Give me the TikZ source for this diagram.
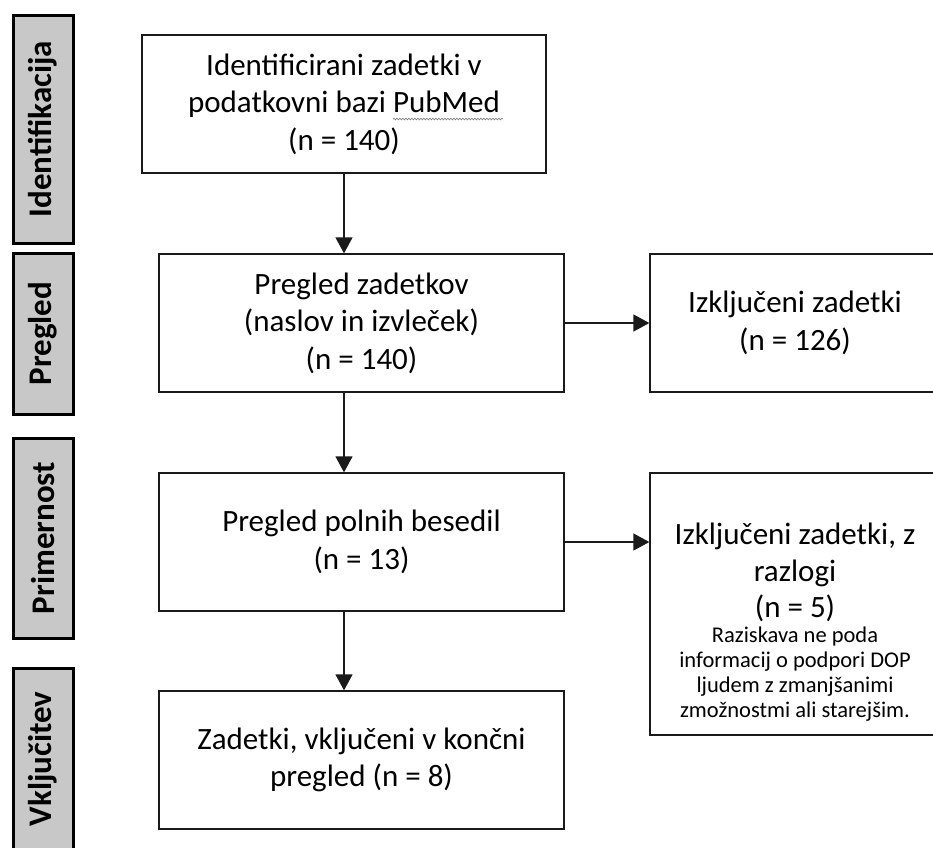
\documentclass[tikz,border=0pt]{standalone}
\usepackage{fontspec}
\setmainfont{Carlito}
\usetikzlibrary{arrows.meta,decorations.pathmorphing}
\definecolor{lblgray}{HTML}{C8C8C8}
\definecolor{edgec}{HTML}{1A1A1A}
\begin{document}
\begin{tikzpicture}[x=1pt,y=-1pt,
  stage/.style={draw=black, line width=3pt, fill=lblgray, rotate=90, minimum height=60pt, inner sep=0pt, font=\bfseries\fontsize{33}{40}\selectfont},
  flowbox/.style={draw=edgec, line width=1.3pt, align=center, inner sep=0pt, font=\fontsize{31}{37.5}\selectfont},
  bigtxt/.style={align=center, inner sep=0pt, font=\fontsize{31}{36.5}\selectfont},
  smalltxt/.style={align=center, inner sep=0pt, font=\fontsize{22.5}{25}\selectfont},
  arr/.style={draw=edgec, line width=1.3pt, -{Triangle[length=16pt,width=17pt]}}]
\useasboundingbox (0,0) rectangle (933,847);
% stage labels
\node[stage, minimum width=228pt] (s1) at (43,129) {Identifikacija};
\node[stage, minimum width=161pt] (s2) at (43,333.5) {Pregled};
\node[stage, minimum width=200pt] (s3) at (43,538) {Primernost};
\node[stage, minimum width=182pt] (s4) at (43,759) {Vključitev};
% main boxes
\node[flowbox, minimum width=404pt, minimum height=138pt] (b1) at (344,104) {Identificirani zadetki v\\ podatkovni bazi PubMed\\ (n = 140)};
\node[flowbox, minimum width=405pt, minimum height=138pt] (b2) at (361.5,323) {Pregled zadetkov\\ (naslov in izvleček)\\ (n = 140)};
\node[flowbox, minimum width=405pt, minimum height=138pt] (b3) at (361.5,542) {Pregled polnih besedil\\ (n = 13)};
\node[flowbox, minimum width=405pt, minimum height=138pt] (b4) at (361.5,760) {Zadetki, vključeni v končni\\ pregled (n = 8)};
% exclusion boxes
\node[flowbox, minimum width=290pt, minimum height=138pt] (r1) at (795,323) {Izključeni zadetki\\ (n = 126)};
\node[flowbox, minimum width=290pt, minimum height=262pt] (r2) at (795,604) {};
\node[bigtxt, anchor=north] (r2a) at (795,523) {Izključeni zadetki, z\\ razlogi\\ (n = 5)};
\node[smalltxt, anchor=north] (r2b) at (795,627) {Raziskava ne poda\\ informacij o podpori DOP\\ ljudem z zmanjšanimi\\ zmožnostmi ali starejšim.};
% spell-check squiggle under PubMed
\draw[gray, line width=0.7pt, decorate, decoration={snake, amplitude=0.8pt, segment length=3pt}] (393,119) -- (503,119);
% connectors
\draw[arr] (b1.south) -- (b1.south |- b2.north);
\draw[arr] (b1.south |- b2.south) -- (b1.south |- b3.north);
\draw[arr] (b1.south |- b3.south) -- (b1.south |- b4.north);
\draw[arr] (b2.east) -- (r1.west);
\draw[arr] (b3.east) -- (b3.east -| r2.west);
\end{tikzpicture}
\end{document}
